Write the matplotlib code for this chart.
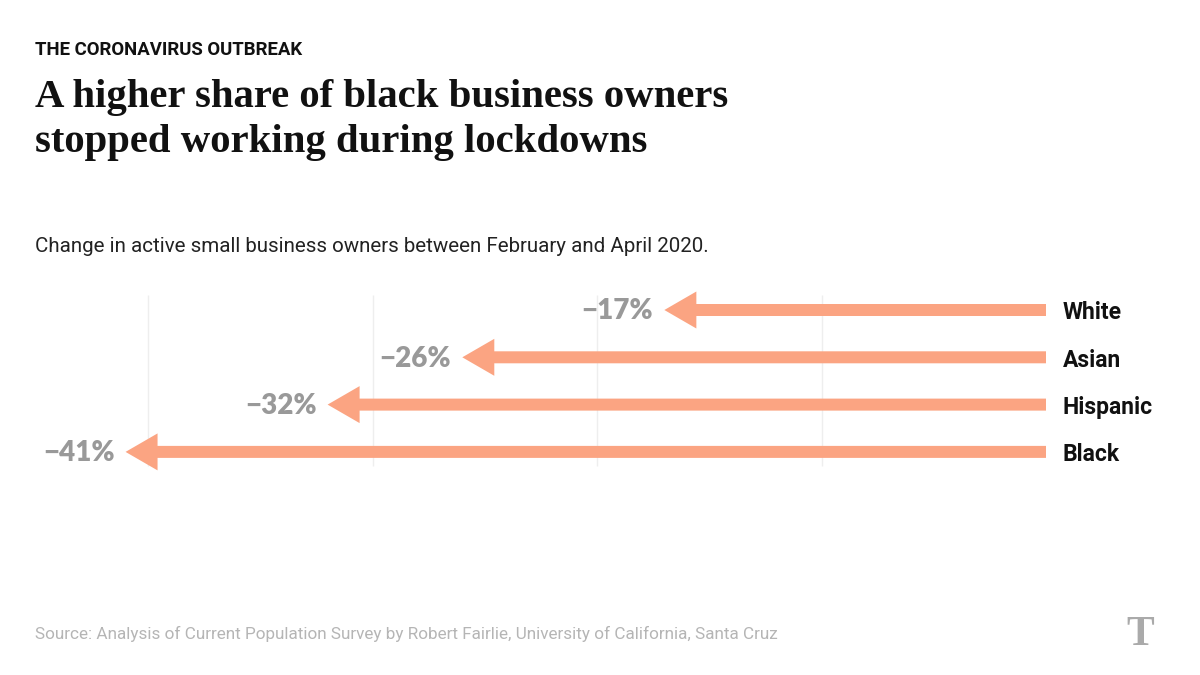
import matplotlib
matplotlib.use("Agg")
import matplotlib.pyplot as plt

groups = ["White", "Asian", "Hispanic", "Black"]
changes = [-17, -26, -32, -41]
grid_ticks = [-40, -30, -20, -10]

W, H = 1200, 675
fig = plt.figure(figsize=(12, 6.75), dpi=100)
ax = fig.add_axes([0, 0, 1, 1])
ax.set_axis_off()

# pixel mapping: x px = 1046 + 22.45*v ; y px = 310 + 47.3*i
px_per_pct = 22.45
x0 = 1046
row_px = 47.3
y0 = 310
ax.set_xlim((0 - x0) / px_per_pct, (W - x0) / px_per_pct)
ax.set_ylim((H - y0) / row_px, (0 - y0) / row_px)

arrow_color = "#FBA482"
ax.vlines(grid_ticks, (295 - y0) / row_px, (466 - y0) / row_px,
          color="#eeeeee", lw=1, zorder=0)

for i, (g, v) in enumerate(zip(groups, changes)):
    ax.arrow(0, i, v, 0, width=12 / row_px, head_width=37 / row_px,
             head_length=32 / px_per_pct, length_includes_head=True,
             color=arrow_color, lw=0, zorder=2)
    ax.text(v - 11 / px_per_pct, i + 0.03, f"\u2212{abs(v)}%", ha="right", va="center",
            fontsize=20, fontweight="heavy", color="#999999",
            family=["Lato", "DejaVu Sans"])
    ax.text(17 / px_per_pct, i + 0.06, g, ha="left", va="center",
            fontsize=16.5, fontweight="bold", color="#111111",
            family=["Roboto", "DejaVu Sans"])

def fy(p):
    return 1 - p / H

fig.text(35 / W, fy(55), "THE CORONAVIRUS OUTBREAK", ha="left", va="baseline",
         fontsize=13.4, fontweight="bold", color="#111111",
         family=["Roboto", "DejaVu Sans"])
fig.text(35 / W, fy(107), "A higher share of black business owners", ha="left",
         va="baseline", fontsize=29.3, fontweight="bold", color="#111111",
         family=["Liberation Serif", "DejaVu Serif"])
fig.text(35 / W, fy(152), "stopped working during lockdowns", ha="left",
         va="baseline", fontsize=29.3, fontweight="bold", color="#111111",
         family=["Liberation Serif", "DejaVu Serif"])
fig.text(35 / W, fy(252),
         "Change in active small business owners between February and April 2020.",
         ha="left", va="baseline", fontsize=14.8, color="#222222",
         family=["Roboto", "DejaVu Sans"])
fig.text(35 / W, fy(639),
         "Source: Analysis of Current Population Survey by Robert Fairlie, University of California, Santa Cruz",
         ha="left", va="baseline", fontsize=12.3, color="#b5b5b5",
         family=["Roboto", "DejaVu Sans"])
fig.text(1140 / W, fy(645), "T", ha="center", va="baseline", fontsize=30,
         fontweight="bold", color="#aaaaaa",
         family=["Liberation Serif", "DejaVu Serif"])

fig.savefig("out.png", dpi=100)
